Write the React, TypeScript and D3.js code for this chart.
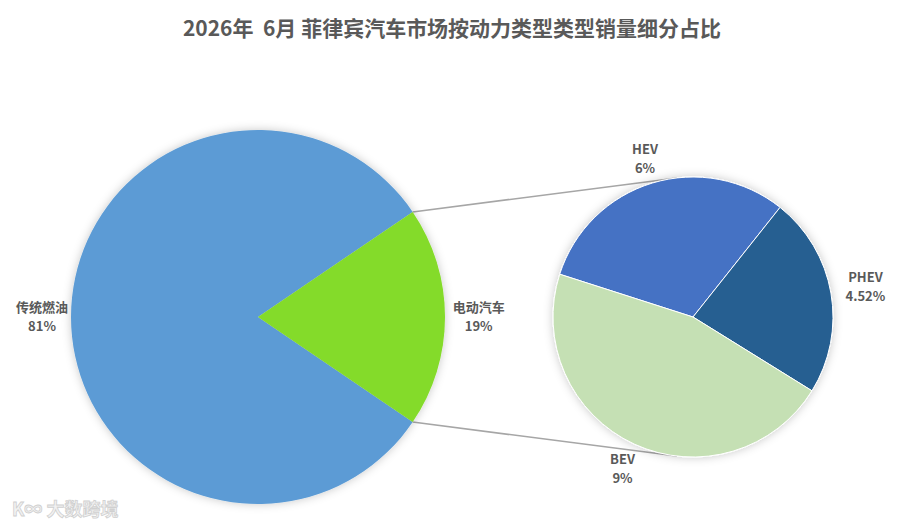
import React from 'react';
import * as d3 from 'd3';

// main pie
const mainCats = ['传统燃油', '电动汽车'];
const mainValues = [81, 19];
const mainLabels = ['81%', '19%'];
// secondary pie (breakdown of 电动汽车)
const subCats = ['HEV', 'PHEV', 'BEV'];
const subValues = [6, 4.52, 9];
const subLabels = ['6%', '4.52%', '9%'];

const title = '2026年  6月 菲律宾汽车市场按动力类型类型销量细分占比';

const mainColors = ['#5B9BD5', '#84DB29'];
const subColors = ['#4472C4', '#255E91', '#C5E0B4'];

const W = 900;
const H = 525;
const font = '"Noto Sans CJK SC", "Noto Sans", sans-serif';

const App: React.FC = () => {
  const c1 = { x: 258, y: 317, r: 187 };
  const c2 = { x: 693, y: 317, r: 140 };

  // electric slice centred on 3 o'clock
  const share = mainValues[1] / d3.sum(mainValues);
  const half = share * Math.PI;
  const mainPie = d3.pie<number>().sort(null)
    .startAngle(Math.PI / 2 + half - 2 * Math.PI)
    .endAngle(Math.PI / 2 + half);
  const mainArcs = mainPie(mainValues);

  const subStart = -72.2 * Math.PI / 180;
  const subPie = d3.pie<number>().sort(null)
    .startAngle(subStart)
    .endAngle(subStart + 2 * Math.PI);
  const subArcs = subPie(subValues);

  const arc1 = d3.arc<d3.PieArcDatum<number>>().innerRadius(0).outerRadius(c1.r);
  const arc2 = d3.arc<d3.PieArcDatum<number>>().innerRadius(0).outerRadius(c2.r);

  const pt = (c: { x: number; y: number }, r: number, a: number) => [
    c.x + r * Math.sin(a),
    c.y - r * Math.cos(a),
  ];

  const mainLabelR = [1.155, 1.18];
  const subLabelR = [1.18, 1.25, 1.2];

  // connector lines
  const g = mainArcs[1];
  const top1 = pt(c1, c1.r, g.startAngle);
  const bot1 = pt(c1, c1.r, g.endAngle);
  const top2 = pt(c2, c2.r, -6.6 * Math.PI / 180);
  const bot2 = pt(c2, c2.r, 186.6 * Math.PI / 180);

  const label = (x: number, y: number, a: string, b: string, key: string) => (
    <g key={key} fontFamily={font} fontWeight="bold" fontSize={13} fill="#595959" textAnchor="middle">
      <text x={x} y={y - 5}>{a}</text>
      <text x={x} y={y + 14}>{b}</text>
    </g>
  );

  return (
    <svg width={W} height={H} style={{ position: 'absolute', left: 0, top: 0 }}>
      <defs>
        <filter id="sh" x="-20%" y="-20%" width="140%" height="140%">
          <feDropShadow dx="0" dy="0" stdDeviation="5" floodColor="#000" floodOpacity="0.22" />
        </filter>
      </defs>
      <rect width={W} height={H} fill="#fff" />
      <text x={452} y={36} textAnchor="middle" fontFamily={font} fontWeight="bold"
        fontSize={21} fill="#595959" style={{ whiteSpace: 'pre' }}>{title}</text>

      <line x1={top1[0]} y1={top1[1]} x2={top2[0]} y2={top2[1]} stroke="#a6a6a6" strokeWidth={1.5} />
      <line x1={bot1[0]} y1={bot1[1]} x2={bot2[0]} y2={bot2[1]} stroke="#a6a6a6" strokeWidth={1.5} />

      <g transform={`translate(${c1.x},${c1.y})`} filter="url(#sh)">
        {mainArcs.map((d, i) => (
          <path key={i} d={arc1(d) ?? ''} fill={mainColors[i]} />
        ))}
      </g>
      <g transform={`translate(${c2.x},${c2.y})`} filter="url(#sh)">
        {subArcs.map((d, i) => (
          <path key={i} d={arc2(d) ?? ''} fill={subColors[i]} stroke="#fff" strokeWidth={1} />
        ))}
      </g>

      {mainArcs.map((d, i) => {
        const a = (d.startAngle + d.endAngle) / 2;
        const [x, y] = pt(c1, c1.r * mainLabelR[i], a);
        return label(x, y, mainCats[i], mainLabels[i], 'm' + i);
      })}
      {subArcs.map((d, i) => {
        const a = (d.startAngle + d.endAngle) / 2;
        const [x, y] = pt(c2, c2.r * subLabelR[i], a);
        return label(x, y, subCats[i], subLabels[i], 's' + i);
      })}

      <text x={12} y={516} fontFamily={font} fontWeight="bold" fontSize={18} fill="#f2f2f2"
        stroke="#d0d0d0" strokeWidth={0.8}>K∞ 大数跨境</text>
    </svg>
  );
};

export default App;
